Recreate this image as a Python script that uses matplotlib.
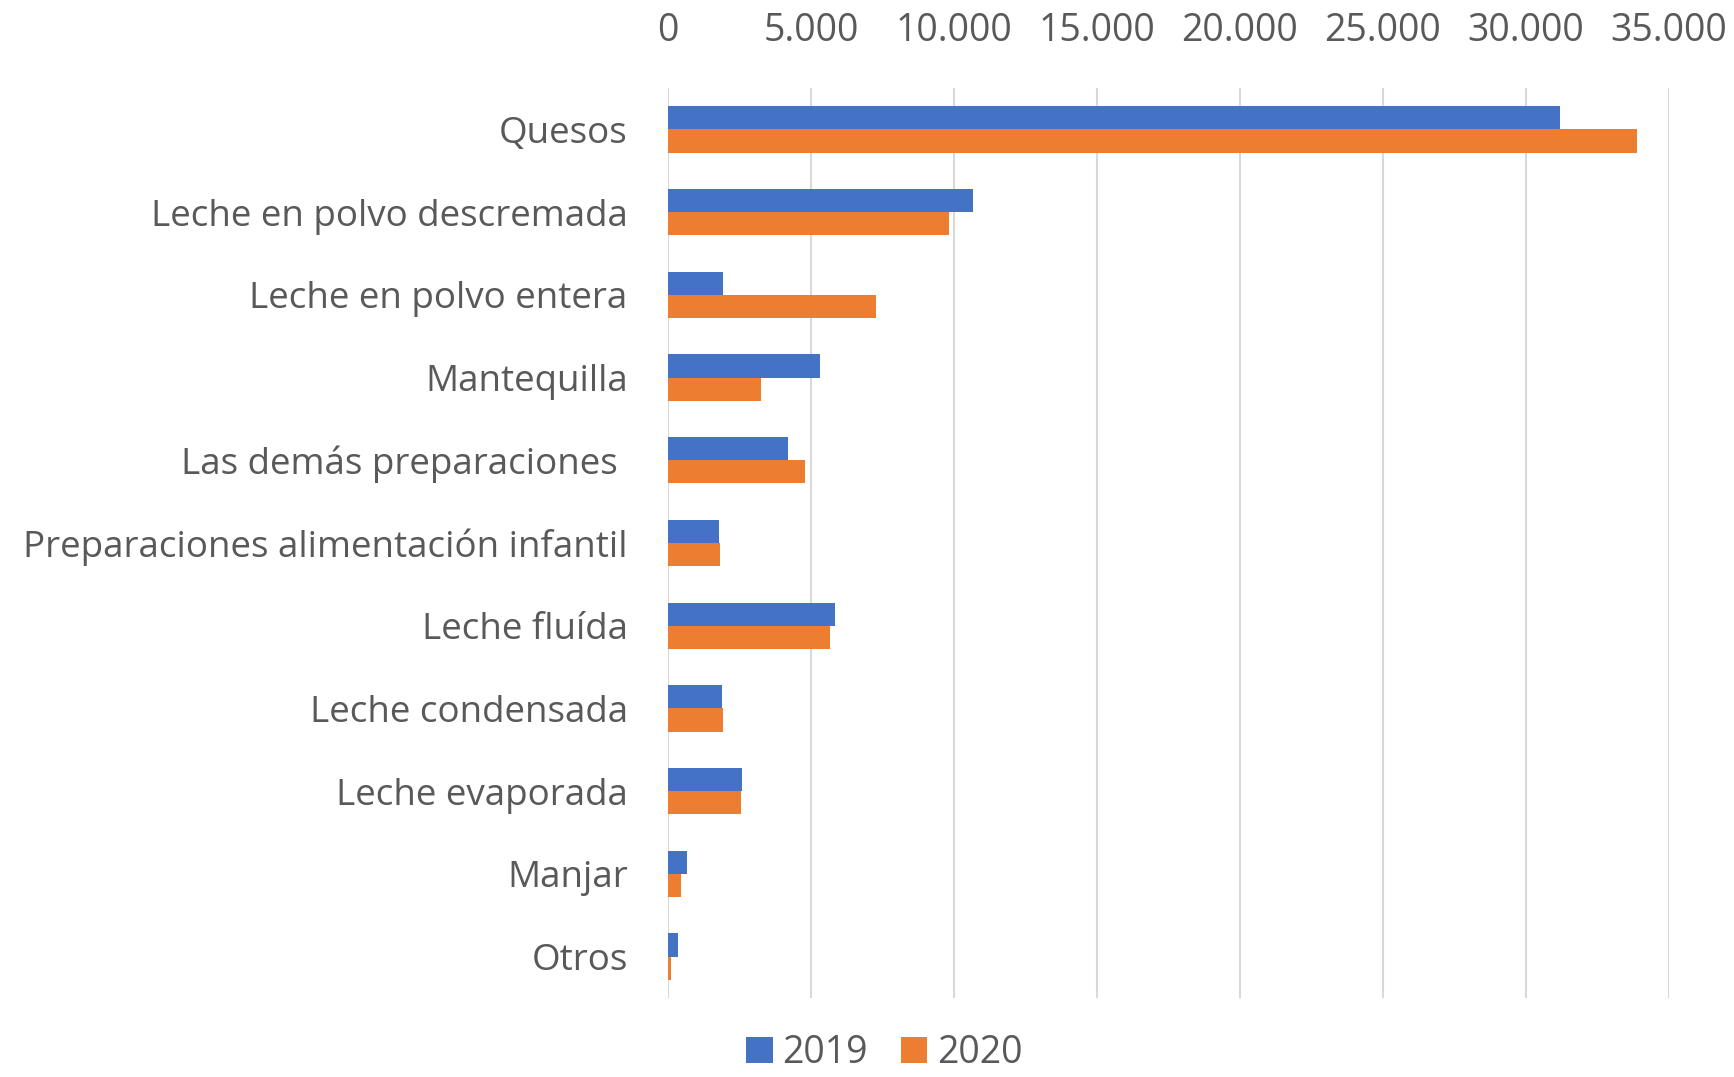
import numpy as np
import matplotlib.pyplot as plt
from matplotlib.ticker import FuncFormatter

# datos (toneladas)
categorias = ["Quesos", "Leche en polvo descremada", "Leche en polvo entera",
              "Mantequilla", "Las demás preparaciones ",
              "Preparaciones alimentación infantil", "Leche fluída",
              "Leche condensada", "Leche evaporada", "Manjar", "Otros"]
v2019 = [31200, 10680, 1940, 5300, 4210, 1800, 5830, 1880, 2600, 665, 338]
v2020 = [33870, 9840, 7260, 3260, 4800, 1820, 5680, 1940, 2545, 455, 117]
ticks = [0, 5000, 10000, 15000, 20000, 25000, 30000, 35000]

azul = '#4472C4'
naranja = '#ED7D31'
gris = '#595959'

plt.rcParams['font.family'] = ['Open Sans', 'DejaVu Sans']

fig = plt.figure(figsize=(17.34, 10.77), dpi=100)
ax = fig.add_axes([0.3852, 0.0734, 0.5773, 0.8449])

y = np.arange(len(categorias))
h = 0.28
ax.barh(y - h/2, v2019, height=h, color=azul, label='2019', zorder=3)
ax.barh(y + h/2, v2020, height=h, color=naranja, label='2020', zorder=3)

ax.set_ylim(len(categorias) - 0.5, -0.5)
ax.set_xlim(0, 35000)
ax.set_xticks(ticks)
ax.xaxis.set_major_formatter(FuncFormatter(lambda v, p: f'{int(v):,}'.replace(',', '.')))
ax.xaxis.tick_top()
ax.set_yticks(y)
ax.set_yticklabels(categorias)

ax.tick_params(axis='x', length=0, pad=27, labelsize=27, labelcolor=gris)
ax.tick_params(axis='y', length=0, pad=29, labelsize=26.5, labelcolor=gris)
ax.grid(axis='x', color='#D9D9D9', linewidth=1.5, zorder=0)
for s in ax.spines.values():
    s.set_visible(False)

fig.legend(loc='lower center', bbox_to_anchor=(0.51, -0.027), ncol=2, frameon=False,
           fontsize=27, labelcolor=gris, handlelength=0.7, handleheight=0.7,
           handletextpad=0.25, columnspacing=0.9)

fig.savefig('out.png', dpi=100)
